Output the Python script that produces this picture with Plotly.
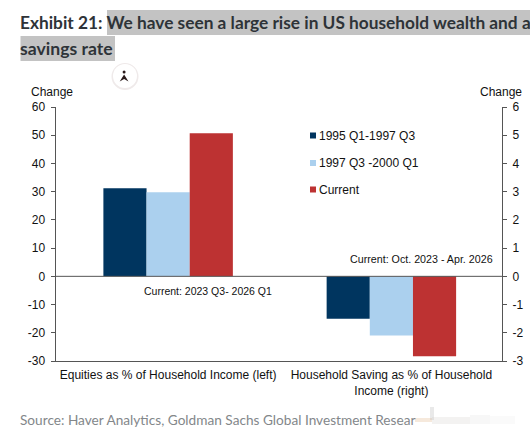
import plotly.graph_objects as go

W, H = 530, 432
PLOT_L, PLOT_R, PLOT_T, PLOT_B = 55.5, 502, 107, 361

categories = ["Equities as % of Household Income (left)",
              "Household Saving as % of Household<br>Income (right)"]
series_names = ["1995 Q1-1997 Q3", "1997 Q3 -2000 Q1", "Current"]
series_colors = ["#00355f", "#abd0ee", "#bd3232"]
equities_left = [31.2, 29.8, 50.7]
saving_right = [-1.5, -2.1, -2.83]
left_ticks = [60, 50, 40, 30, 20, 10, 0, -10, -20, -30]
right_ticks = [6, 5, 4, 3, 2, 1, 0, -1, -2, -3]

FONT = "Liberation Sans"
HEAD = "Lato"
TEXT_INSET = 2.5  # annotation boxes sit slightly inside their anchor


def px(x):
    return x / W


def py(y):
    return 1 - y / H


def page_rect(x0, x1, y0, y1, color, opacity=1.0, layer="above"):
    return dict(type="rect", xref="paper", yref="paper", layer=layer, x0=px(x0), x1=px(x1),
                y0=py(y1), y1=py(y0), fillcolor=color, opacity=opacity, line_width=0)


def page_text(text, x, y, size=12, family=FONT, color="#111111"):
    return dict(text=text, xref="paper", yref="paper", x=px(x - TEXT_INSET), y=py(y),
                xanchor="left", yanchor="middle", showarrow=False,
                font=dict(family=family, size=size, color=color))


fig = go.Figure()
for name, color, eq, sav in zip(series_names, series_colors, equities_left, saving_right):
    fig.add_trace(go.Bar(x=categories, y=[eq, None], name=name, marker_color=color,
                         marker_line_width=0, yaxis="y", showlegend=False))
    fig.add_trace(go.Bar(x=categories, y=[None, sav], name=name, marker_color=color,
                         marker_line_width=0, yaxis="y2", showlegend=False))

# Legend entries: small squares with labels, placed inside the plot
legend_ys = [135.5, 163, 189.5]
shapes = []
annotations = []
for name, color, ly in zip(series_names, series_colors, legend_ys):
    shapes.append(page_rect(310, 316, ly - 3, ly + 3, color))
    annotations.append(page_text(name, 319.5, ly))

shapes += [
    # Grey selection highlight behind the heading
    page_rect(107, 530, 10, 35, "#c3c3c3", layer="below"),
    page_rect(20.5, 115, 36, 61, "#c3c3c3", layer="below"),
    # Round badge with a small glyph
    dict(type="circle", xref="paper", yref="paper", x0=px(111.5), x1=px(138.5),
         y0=py(90), y1=py(63), fillcolor="#efeaea", line_width=0, layer="above"),
    dict(type="circle", xref="paper", yref="paper", x0=px(113), x1=px(137),
         y0=py(88), y1=py(64), fillcolor="#ffffff", line_width=0, layer="above"),
    dict(type="circle", xref="paper", yref="paper", x0=px(122.6), x1=px(125.6),
         y0=py(73.6), y1=py(70.6), fillcolor="#2a1a1a", line_width=0, layer="above"),
    dict(type="path", xref="paper", yref="paper", layer="above", line_width=0,
         fillcolor="#2a1a1a",
         path=f"M {px(124.1)} {py(74.5)} L {px(128.5)} {py(81.5)} L {px(124.1)} {py(79)} "
              f"L {px(119.7)} {py(81.5)} Z"),
    # Zero line across the plot
    dict(type="line", xref="paper", yref="y", x0=px(PLOT_L), x1=px(PLOT_R), y0=0, y1=0,
         line=dict(color="#555555", width=1), layer="above"),
    # Smudged end of the source line
    page_rect(415, 432, 418, 422, "#e8c9a8", 0.4),
    page_rect(430, 434, 407, 420, "#b5b5b5", 0.3),
    page_rect(432, 470, 417, 424, "#cfcac6", 0.25),
    page_rect(470, 490, 415, 424, "#dcdcdc", 0.22),
    page_rect(490, 515, 416, 424, "#e4e4e4", 0.18),
]

annotations += [
    page_text("<b>Exhibit 21: We have seen a large rise in US household wealth and a</b>",
              20.5, 22.5, 17.3, HEAD, "#2e3338"),
    page_text("<b>savings rate</b>", 20.5, 48.5, 17.6, HEAD, "#2e3338"),
    page_text("Change", 31, 92.5),
    page_text("Change", 480, 92.5),
    page_text("Current: 2023 Q3- 2026 Q1", 144, 291, 10.5),
    page_text("Current: Oct. 2023 - Apr. 2026", 350, 259, 10.7),
    page_text("Source: Haver Analytics, Goldman Sachs Global Investment Resear",
              20.5, 419.5, 13.65, HEAD, "#83878a"),
]

axis_font = dict(family=FONT, size=12, color="#111111")
fig.update_layout(
    template="none",
    width=W, height=H, autosize=False,
    margin=dict(l=0, r=0, t=0, b=0, autoexpand=False),
    paper_bgcolor="white", plot_bgcolor="white",
    barmode="group", bargap=0.42, bargroupgap=0,
    xaxis=dict(domain=[px(PLOT_L), px(PLOT_R)], showline=True, linecolor="#555555", linewidth=1,
               ticks="", tickfont=axis_font, showgrid=False, zeroline=False,
               range=[-0.5045, 1.4955],
               anchor="y", tickangle=0, automargin=False, ticklabelstandoff=3),
    yaxis=dict(domain=[py(PLOT_B), py(PLOT_T)], range=[-30, 60], tickvals=left_ticks,
               ticktext=[str(v) for v in left_ticks],
               showline=True, linecolor="#555555", linewidth=1, ticks="outside", ticklen=4,
               tickcolor="#555555", tickfont=axis_font, showgrid=False, zeroline=False,
               automargin=False, ticklabelstandoff=3),
    yaxis2=dict(domain=[py(PLOT_B), py(PLOT_T)], range=[-3, 6], tickvals=right_ticks,
                ticktext=[str(v) for v in right_ticks],
                overlaying="y", side="right", anchor="x",
                showline=True, linecolor="#555555", linewidth=1, ticks="outside", ticklen=4,
                tickcolor="#555555", tickfont=axis_font, showgrid=False, zeroline=False,
                automargin=False, ticklabelstandoff=3),
    shapes=shapes, annotations=annotations, showlegend=False,
)

fig.write_html("out.html", config={"displayModeBar": False})
